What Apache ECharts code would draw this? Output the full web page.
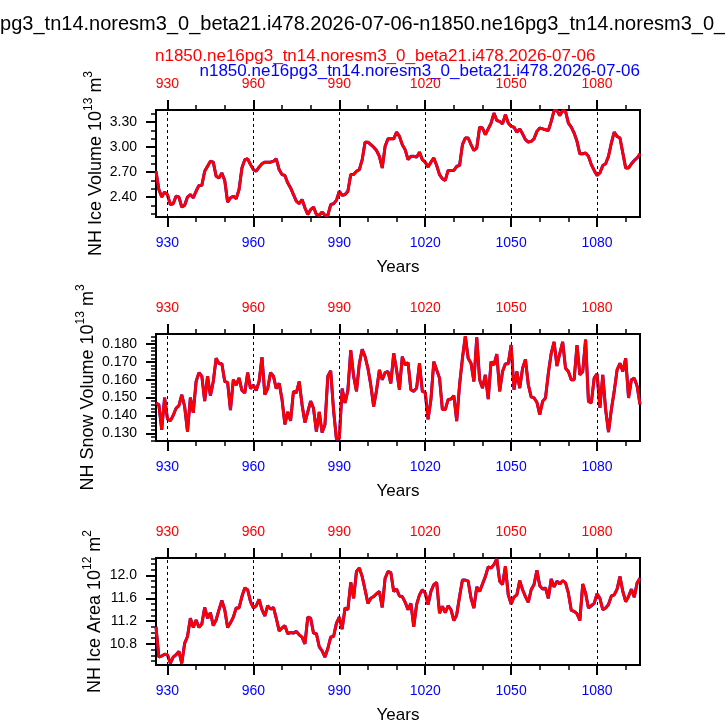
<!DOCTYPE html>
<html>
<head>
<meta charset="utf-8">
<title>NH ice / snow</title>
<script src="https://cdn.jsdelivr.net/npm/echarts@6.0.0/dist/echarts.min.js"></script>
<style>
	html, body { margin: 0; padding: 0; background: #fff; }
	#chart { width: 725px; height: 725px; }
</style>
</head>
<body>
<div id="chart"></div>
<script>
const caseName = 'n1850.ne16pg3_tn14.noresm3_0_beta21.i478.2026-07-06';
const mainTitle = caseName + '-' + caseName;

const years = [
	926, 927, 928, 929, 930, 931, 932, 933, 934, 935,
	936, 937, 938, 939, 940, 941, 942, 943, 944, 945,
	946, 947, 948, 949, 950, 951, 952, 953, 954, 955,
	956, 957, 958, 959, 960, 961, 962, 963, 964, 965,
	966, 967, 968, 969, 970, 971, 972, 973, 974, 975,
	976, 977, 978, 979, 980, 981, 982, 983, 984, 985,
	986, 987, 988, 989, 990, 991, 992, 993, 994, 995,
	996, 997, 998, 999, 1000, 1001, 1002, 1003, 1004, 1005,
	1006, 1007, 1008, 1009, 1010, 1011, 1012, 1013, 1014, 1015,
	1016, 1017, 1018, 1019, 1020, 1021, 1022, 1023, 1024, 1025,
	1026, 1027, 1028, 1029, 1030, 1031, 1032, 1033, 1034, 1035,
	1036, 1037, 1038, 1039, 1040, 1041, 1042, 1043, 1044, 1045,
	1046, 1047, 1048, 1049, 1050, 1051, 1052, 1053, 1054, 1055,
	1056, 1057, 1058, 1059, 1060, 1061, 1062, 1063, 1064, 1065,
	1066, 1067, 1068, 1069, 1070, 1071, 1072, 1073, 1074, 1075,
	1076, 1077, 1078, 1079, 1080, 1081, 1082, 1083, 1084, 1085,
	1086, 1087, 1088, 1089, 1090, 1091, 1092, 1093, 1094, 1095
];

// NH Ice Volume (10^13 m^3)
const iceVolume = [
	2.71, 2.49, 2.40, 2.46, 2.43, 2.31, 2.32, 2.41, 2.40, 2.28,
	2.30, 2.40, 2.43, 2.39, 2.47, 2.54, 2.54, 2.71, 2.77, 2.83,
	2.82, 2.65, 2.63, 2.69, 2.60, 2.34, 2.39, 2.41, 2.38, 2.49,
	2.75, 2.85, 2.86, 2.79, 2.73, 2.71, 2.76, 2.80, 2.82, 2.82,
	2.82, 2.83, 2.86, 2.73, 2.67, 2.66, 2.57, 2.51, 2.43, 2.35,
	2.32, 2.37, 2.27, 2.19, 2.25, 2.28, 2.19, 2.18, 2.22, 2.18,
	2.18, 2.31, 2.32, 2.36, 2.47, 2.42, 2.43, 2.47, 2.67, 2.67,
	2.71, 2.73, 2.85, 3.06, 3.06, 3.03, 3.00, 2.96, 2.89, 2.75,
	3.01, 3.10, 3.10, 3.10, 3.18, 3.13, 3.03, 2.97, 2.85, 2.89,
	2.89, 2.88, 2.94, 2.85, 2.82, 2.76, 2.82, 2.87, 2.78, 2.67,
	2.62, 2.60, 2.72, 2.72, 2.72, 2.77, 2.78, 3.03, 3.11, 3.11,
	3.03, 2.96, 2.99, 3.24, 3.23, 3.15, 3.22, 3.29, 3.41, 3.32,
	3.31, 3.28, 3.39, 3.29, 3.25, 3.24, 3.18, 3.22, 3.16, 3.09,
	3.06, 3.07, 3.10, 3.19, 3.23, 3.22, 3.21, 3.20, 3.31, 3.44,
	3.44, 3.38, 3.44, 3.43, 3.29, 3.24, 3.17, 3.07, 2.92, 2.92,
	2.93, 2.89, 2.79, 2.72, 2.66, 2.69, 2.78, 2.80, 2.89, 3.05,
	3.18, 3.13, 3.11, 2.93, 2.75, 2.75, 2.80, 2.84, 2.87, 2.92
];

// NH Snow Volume (10^13 m^3)
const snowVolume = [
	0.147, 0.146, 0.132, 0.150, 0.138, 0.137, 0.140, 0.144, 0.1455, 0.1516,
	0.145, 0.131, 0.150, 0.1415, 0.159, 0.164, 0.162, 0.148, 0.162, 0.151,
	0.159, 0.172, 0.169, 0.169, 0.159, 0.1585, 0.143, 0.160, 0.157, 0.161,
	0.154, 0.1526, 0.164, 0.155, 0.157, 0.154, 0.159, 0.1726, 0.1516, 0.155,
	0.164, 0.162, 0.155, 0.158, 0.149, 0.135, 0.142, 0.137, 0.1535, 0.1526,
	0.159, 0.146, 0.136, 0.142, 0.148, 0.144, 0.131, 0.142, 0.1304, 0.135,
	0.162, 0.165, 0.143, 0.1267, 0.127, 0.155, 0.147, 0.154, 0.1766, 0.162,
	0.1535, 0.169, 0.177, 0.173, 0.1664, 0.157, 0.145, 0.154, 0.1655, 0.160,
	0.164, 0.1646, 0.158, 0.1748, 0.1655, 0.1544, 0.1729, 0.1683, 0.1696, 0.1544,
	0.1535, 0.1553, 0.1692, 0.1535, 0.1529, 0.1378, 0.1489, 0.1701, 0.1655, 0.1609,
	0.1433, 0.1433, 0.1489, 0.1492, 0.1511, 0.1368, 0.1572, 0.1720, 0.1844, 0.1720,
	0.1692, 0.1590, 0.1837, 0.1600, 0.1553, 0.1627, 0.1492, 0.1701, 0.1683, 0.1744,
	0.1535, 0.1646, 0.1689, 0.1689, 0.1794, 0.1544, 0.1646, 0.1553, 0.1664, 0.1714,
	0.1572, 0.1504, 0.1498, 0.1474, 0.1405, 0.1479, 0.1498, 0.1637, 0.1748, 0.1812,
	0.1677, 0.1748, 0.1812, 0.1664, 0.1646, 0.1600, 0.1600, 0.1794, 0.1627, 0.1646,
	0.1825, 0.1479, 0.1470, 0.1609, 0.1633, 0.1442, 0.1627, 0.1433, 0.1307, 0.1433,
	0.1535, 0.1655, 0.1692, 0.1646, 0.1720, 0.1498, 0.1600, 0.1609, 0.1563, 0.1461
];

// NH Ice Area (10^12 m^2)
const iceArea = [
	11.10, 10.57, 10.59, 10.62, 10.61, 10.46, 10.57, 10.61, 10.67, 10.46,
	10.81, 10.93, 11.25, 11.09, 11.22, 11.09, 11.15, 11.44, 11.25, 11.35,
	11.12, 11.22, 11.40, 11.56, 11.40, 11.09, 11.17, 11.27, 11.43, 11.43,
	11.63, 11.78, 11.75, 11.54, 11.43, 11.47, 11.58, 11.40, 11.29, 11.47,
	11.41, 11.44, 11.25, 11.03, 11.08, 11.12, 10.98, 11.00, 10.99, 11.02,
	10.96, 10.92, 10.80, 11.27, 11.25, 10.99, 10.98, 10.75, 10.68, 10.57,
	10.72, 10.92, 10.93, 11.16, 11.27, 11.06, 11.43, 11.40, 11.88, 11.60,
	12.07, 12.13, 11.98, 11.75, 11.51, 11.60, 11.63, 11.68, 11.72, 11.44,
	11.95, 12.07, 12.05, 11.72, 11.76, 11.64, 11.63, 11.53, 11.40, 11.51,
	11.10, 11.49, 11.66, 11.75, 11.69, 11.49, 11.72, 11.84, 11.88, 11.34,
	11.46, 11.35, 11.47, 11.40, 11.21, 11.31, 11.63, 11.92, 11.92, 11.90,
	11.60, 11.43, 11.80, 11.72, 11.85, 11.98, 12.15, 12.13, 12.19, 12.29,
	11.90, 11.84, 12.16, 11.66, 11.50, 11.62, 11.66, 11.91, 11.75, 11.63,
	11.53, 11.75, 11.84, 12.09, 11.82, 11.76, 11.78, 11.60, 11.94, 11.80,
	11.90, 11.85, 11.91, 11.87, 11.69, 11.39, 11.37, 11.33, 11.21, 11.85,
	11.69, 11.43, 11.47, 11.51, 11.68, 11.60, 11.40, 11.43, 11.49, 11.64,
	11.66, 11.76, 11.98, 11.72, 11.54, 11.63, 11.76, 11.62, 11.87, 11.95
];

// 刻度
const majorYears = [930, 960, 990, 1020, 1050, 1080];
const minorYears = [940, 950, 970, 980, 1000, 1010, 1030, 1040, 1060, 1070, 1090];
const iceVolumeTicks = [2.40, 2.70, 3.00, 3.30];
const iceVolumeMinor = [2.20, 2.30, 2.50, 2.60, 2.80, 2.90, 3.10, 3.20, 3.40];
const snowVolumeTicks = [0.130, 0.140, 0.150, 0.160, 0.170, 0.180];
const snowVolumeMinor = [
	0.126, 0.128, 0.132, 0.134, 0.136, 0.138, 0.142, 0.144, 0.146, 0.148,
	0.152, 0.154, 0.156, 0.158, 0.162, 0.164, 0.166, 0.168, 0.172, 0.174,
	0.176, 0.178, 0.182, 0.184
];
const iceAreaTicks = [10.8, 11.2, 11.6, 12.0];
const iceAreaMinor = [
	10.5, 10.6, 10.7, 10.9, 11.0, 11.1, 11.3, 11.4, 11.5, 11.7, 11.8, 11.9,
	12.1, 12.2, 12.3
];

const FONT = '"Liberation Sans", Arial, Helvetica, sans-serif';
const RED = '#ff0000';
const BLUE = '#0000ff';
const X_MIN = 926;
const X_MAX = 1095;

const panels = [
	{
		top: 110, values: iceVolume, yMin: 2.16, yMax: 3.447,
		major: iceVolumeTicks, minor: iceVolumeMinor, digits: 2,
		name: '{t|NH Ice Volume 10}{s|13}{t| m}{s|3}', nameGap: 47
	},
	{
		top: 334, values: snowVolume, yMin: 0.1257, yMax: 0.1856,
		major: snowVolumeTicks, minor: snowVolumeMinor, digits: 3,
		name: '{t|NH Snow Volume 10}{s|13}{t| m}{s|3}', nameGap: 55
	},
	{
		top: 558, values: iceArea, yMin: 10.431, yMax: 12.306,
		major: iceAreaTicks, minor: iceAreaMinor, digits: 1,
		name: '{t|NH Ice Area 10}{s|12}{t| m}{s|2}', nameGap: 48
	}
];

window.onload = function () {
	const chart = echarts.init(document.getElementById('chart'), null, { renderer: 'canvas' });
	chart.setOption(buildOption());
}

/**
 * x 轴：上下各一条主刻度 + 一条次刻度
 */
function xAxesFor(gridIndex) {
	const base = {
		gridIndex: gridIndex,
		type: 'value',
		min: X_MIN,
		max: X_MAX,
		offset: 0,
		axisLine: { show: false },
		splitLine: { show: false }
	};
	const label = color => ({
		customValues: majorYears, color: color, fontSize: 14,
		fontFamily: FONT, margin: 19,
		formatter: v => String(v) // 不要千分位
	});
	return [
		Object.assign({}, base, {
			position: 'bottom',
			axisTick: {
				customValues: majorYears, length: 10, inside: false,
				lineStyle: { color: '#000', width: 2 }
			},
			axisLabel: label(BLUE),
			name: 'Years',
			nameLocation: 'middle',
			nameGap: 42,
			nameMoveOverlap: false,
			nameTextStyle: { color: '#000', fontSize: 17, fontFamily: FONT }
		}),
		Object.assign({}, base, {
			position: 'bottom',
			axisTick: {
				customValues: minorYears, length: 5, inside: false,
				lineStyle: { color: '#000', width: 1.5 }
			},
			axisLabel: { show: false }
		}),
		Object.assign({}, base, {
			position: 'top',
			axisTick: {
				customValues: majorYears, length: 10, inside: false,
				lineStyle: { color: '#000', width: 2 }
			},
			axisLabel: label(RED)
		}),
		Object.assign({}, base, {
			position: 'top',
			axisTick: {
				customValues: minorYears, length: 5, inside: false,
				lineStyle: { color: '#000', width: 1.5 }
			},
			axisLabel: { show: false }
		})
	];
}

function yAxesFor(gridIndex, p) {
	const base = {
		gridIndex: gridIndex,
		type: 'value',
		min: p.yMin,
		max: p.yMax,
		position: 'left',
		offset: 0,
		axisLine: { show: false },
		splitLine: { show: false }
	};
	return [
		Object.assign({}, base, {
			axisTick: {
				customValues: p.major, length: 10, inside: false,
				lineStyle: { color: '#000', width: 2 }
			},
			axisLabel: {
				customValues: p.major, color: '#000', fontSize: 14,
				fontFamily: FONT, margin: 19,
				formatter: v => v.toFixed(p.digits)
			},
			name: p.name,
			nameLocation: 'middle',
			nameGap: p.nameGap,
			nameMoveOverlap: false,
			nameTextStyle: {
				rich: {
					t: { fontSize: 18, fontFamily: FONT, color: '#000', lineHeight: 26 },
					s: { fontSize: 12, fontFamily: FONT, color: '#000', verticalAlign: 'top', lineHeight: 26 }
				}
			}
		}),
		Object.assign({}, base, {
			axisTick: {
				customValues: p.minor, length: 5, inside: false,
				lineStyle: { color: '#000', width: 1.5 }
			},
			axisLabel: { show: false }
		})
	];
}

function buildOption() {
	const grid = [];
	let xAxis = [];
	let yAxis = [];
	const series = [];

	panels.forEach((p, i) => {
		grid.push({
			left: 156,
			width: 484,
			top: p.top,
			height: 107,
			show: true,
			borderColor: '#000',
			borderWidth: 2,
			backgroundColor: 'transparent',
			outerBoundsMode: 'none',
			containLabel: false
		});
		xAxis = xAxis.concat(xAxesFor(i));
		yAxis = yAxis.concat(yAxesFor(i, p));

		const points = years.map((y, k) => [y, p.values[k]]);
		// 第二条（蓝）在下，第一条（红）在上，两组数据相同
		series.push({
			type: 'line',
			name: caseName + ' (blue)',
			xAxisIndex: i * 4,
			yAxisIndex: i * 2,
			data: points,
			symbol: 'none',
			lineStyle: { color: BLUE, width: 3 },
			z: 2,
			animation: false,
			silent: true,
			markLine: {
				silent: true,
				symbol: ['none', 'none'],
				label: { show: false },
				animation: false,
				lineStyle: { color: '#000', type: [3, 3], width: 1 },
				data: majorYears.map(y => ({ xAxis: y }))
			}
		});
		series.push({
			type: 'line',
			name: caseName + ' (red)',
			xAxisIndex: i * 4,
			yAxisIndex: i * 2,
			data: points,
			symbol: 'none',
			lineStyle: { color: RED, width: 2.8 },
			z: 3,
			animation: false,
			silent: true
		});
	});

	return {
		backgroundColor: '#fff',
		animation: false,
		textStyle: { fontFamily: FONT },
		graphic: [
			{
				type: 'text', x: 416, y: 24, silent: true,
				style: {
					text: mainTitle, fill: '#000', fontSize: 20, fontFamily: FONT,
					align: 'center', verticalAlign: 'middle'
				}
			},
			{
				type: 'text', x: 155, y: 56, silent: true,
				style: {
					text: caseName, fill: RED, fontSize: 17, fontFamily: FONT,
					align: 'left', verticalAlign: 'middle'
				}
			},
			{
				type: 'text', x: 640, y: 71, silent: true,
				style: {
					text: caseName, fill: BLUE, fontSize: 17, fontFamily: FONT,
					align: 'right', verticalAlign: 'middle'
				}
			}
		],
		grid: grid,
		xAxis: xAxis,
		yAxis: yAxis,
		series: series
	};
}
</script>
</body>
</html>
